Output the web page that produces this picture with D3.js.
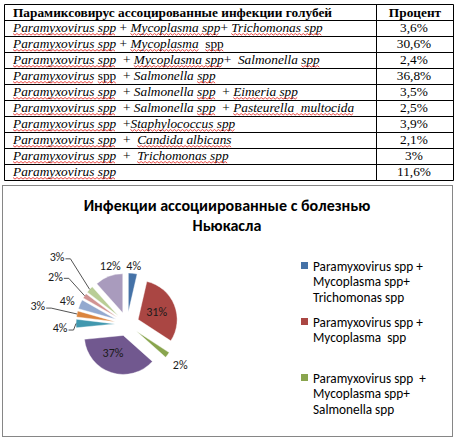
<!DOCTYPE html>
<html><head><meta charset="utf-8">
<script src="https://cdn.jsdelivr.net/npm/d3@7"></script>
<style>
html,body{margin:0;padding:0;background:#fff;}
svg{display:block;}
text{white-space:pre;}
</style></head><body>
<svg id="c" width="455" height="440"></svg>
<script>
// ---------------- DATA ----------------
const tableHeader = ["Парамиксовирус ассоцированные инфекции голубей", "Процент"];
// category name segments: [text, italic, spell-check squiggle]
const categories = [
  [["Paramyxovirus spp",1,1],[" + ",0,0],["Mycoplasma spp",1,1],["+ ",0,0],["Trichomonas spp",1,1]],
  [["Paramyxovirus spp",1,1],[" + ",0,0],["Mycoplasma",1,1],["  ",0,0],["spp",0,1]],
  [["Paramyxovirus spp",1,1],["  + ",0,0],["Mycoplasma spp",1,1],["+  ",0,0],["Salmonella ",1,0],["spp",1,1]],
  [["Paramyxovirus",1,1],[" spp",0,1],["  + ",0,0],["Salmonella ",1,0],["spp",1,1]],
  [["Paramyxovirus spp",1,1],["  + ",0,0],["Salmonella ",1,0],["spp",1,1],["  + ",0,0],["Eimeria spp",1,1]],
  [["Paramyxovirus spp",1,1],["  + ",0,0],["Salmonella ",1,0],["spp",1,1],["  + ",0,0],["Pasteurella  multocida",1,1]],
  [["Paramyxovirus spp",1,1],["  +",0,0],["Staphylococcus spp",1,1]],
  [["Paramyxovirus spp",1,1],["  +  ",0,0],["Candida albicans",1,1]],
  [["Paramyxovirus spp",1,1],["  +  ",0,0],["Trichomonas spp",1,1]],
  [["Paramyxovirus spp",1,1]]
];
const values = [3.6, 30.6, 2.4, 36.8, 3.5, 2.5, 3.9, 2.1, 3, 11.6];
const chartTitle = ["Инфекции ассоциированные с болезнью", "Ньюкасла"];
const legendLabels = [
  ["Paramyxovirus spp +", "Mycoplasma spp+", "Trichomonas spp"],
  ["Paramyxovirus spp +", "Mycoplasma  spp"],
  ["Paramyxovirus spp  +", "Mycoplasma spp+", "Salmonella spp"]
];
const colors = ["#4572A7","#AA4643","#89A54E","#71588F","#4198AF","#DB843D","#93A9CF","#D19392","#B9CD96","#A99BBD"];

// ---------------- LAYOUT / STYLE ----------------
const svg = d3.select("#c");
const serif = "'Liberation Serif','Times New Roman',serif";
const sans = "Carlito, Lato, 'Open Sans', sans-serif";
const sansCyr = "Carlito, 'Open Sans', sans-serif";

// ----- Table -----
const T = {left:4.5, right:453.5, colX:376.5, top:4.5, headH:16, rowH:16, fs:13.33};
const rowY = d3.scaleLinear().domain([0,1]).range([T.top+T.headH, T.top+T.headH+T.rowH]);
const tbl = svg.append("g");
const nRows = categories.length;
const bottom = rowY(nRows);
// horizontal lines
[T.top].concat(d3.range(nRows+1).map(i=>rowY(i))).forEach(y=>{
  tbl.append("line").attr("x1",T.left).attr("x2",T.right).attr("y1",y).attr("y2",y)
    .attr("stroke","#000").attr("stroke-width",1);
});
[T.left, T.colX, T.right].forEach(x=>{
  tbl.append("line").attr("x1",x).attr("x2",x).attr("y1",T.top).attr("y2",bottom)
    .attr("stroke","#000").attr("stroke-width",1);
});
// header
tbl.append("text").attr("x",13).attr("y",T.top+T.headH-4)
  .attr("font-family",serif).attr("font-weight","bold").attr("font-size",T.fs)
  .text(tableHeader[0]);
tbl.append("text").attr("x",(T.colX+T.right)/2).attr("y",T.top+T.headH-4)
  .attr("text-anchor","middle")
  .attr("font-family",serif).attr("font-weight","bold").attr("font-size",T.fs)
  .text(tableHeader[1]);

const pctStr = v => String(v).replace(".", ",") + "%";
function squigglePath(x0, x1, y){
  const pts=[]; let up=true;
  for(let x=x0; x<=x1+0.01; x+=2){ pts.push([x, up? y : y+1.6]); up=!up; }
  return d3.line()(pts);
}
categories.forEach((segs,i)=>{
  const yb = rowY(i+1)-4.5;
  const t = tbl.append("text").attr("x",13).attr("y",yb)
    .attr("xml:space","preserve")
    .attr("font-family",serif).attr("font-size",T.fs).attr("fill","#000");
  segs.forEach(s=>{
    t.append("tspan").attr("font-style", s[1] ? "italic" : "normal").text(s[0]);
  });
  // squiggles
  const node = t.node();
  let idx = 0;
  segs.forEach(s=>{
    const len = s[0].length;
    if (s[2]) {
      // skip leading spaces
      let a = idx, b = idx+len-1;
      while (s[0][a-idx] === " ") a++;
      try {
        const x0 = node.getStartPositionOfChar(a).x;
        const x1 = node.getEndPositionOfChar(b).x;
        tbl.append("path").attr("d", squigglePath(x0, x1, yb+1.5))
          .attr("fill","none").attr("stroke","#e8332f").attr("stroke-width",0.9);
      } catch(e) {}
    }
    idx += len;
  });
  tbl.append("text").attr("x",(T.colX+T.right)/2 - 1).attr("y",yb)
    .attr("text-anchor","middle").attr("font-family",serif).attr("font-size",T.fs)
    .text(pctStr(values[i]));
});

// ----- Chart area -----
svg.append("rect").attr("x",2.5).attr("y",185.5).attr("width",450).attr("height",251)
  .attr("fill","#fff").attr("stroke","#868686").attr("stroke-width",1);

// helper: fit font size so that a sample text measures a target width
function fitSize(family, weight, sample, target, base){
  const tmp = svg.append("text").attr("font-family",family).attr("font-weight",weight)
    .attr("font-size",base).text(sample);
  const w = tmp.node().getComputedTextLength();
  tmp.remove();
  return base * target / w;
}

// title
const titleSize = fitSize(sansCyr, "bold", chartTitle[0], 287, 14);
chartTitle.forEach((line,i)=>{
  svg.append("text").attr("x",227).attr("y",210.5 + i*20)
    .attr("text-anchor","middle").attr("font-family",sansCyr).attr("font-weight","bold")
    .attr("font-size",titleSize).attr("fill","#000").text(line);
});

// pie
const P = {cx:127, cy:324, r:39, explode:12};
const labelRadius = [59, 32, 67, 32, 67, 91, 64, 86, 97, 61];
const labelShiftDeg = [0, 0, 0, 8, -4, 0, -2, 0, 1, 5];
const labelLeader = [0, 0, 0, 0, 1, 1, 0, 1, 1, 0];

const pie = d3.pie().sort(null).value(d=>d);
const arcs = pie(values);
const arc = d3.arc().innerRadius(0).outerRadius(P.r);
const gPie = svg.append("g").attr("transform",`translate(${P.cx},${P.cy})`);
const polar = (ang, rad) => [rad*Math.sin(ang), -rad*Math.cos(ang)];

arcs.forEach((a,i)=>{
  const mid = (a.startAngle + a.endAngle)/2;
  const off = polar(mid, P.explode);
  gPie.append("path").attr("d", arc(a))
    .attr("transform",`translate(${off[0]},${off[1]})`)
    .attr("fill", colors[i]).attr("stroke","#fff").attr("stroke-width",0.4);
});

const labelSize = fitSize(sans, "normal", "37%", 21, 12);
arcs.forEach((a,i)=>{
  const mid = (a.startAngle + a.endAngle)/2;
  const la = mid + labelShiftDeg[i]*Math.PI/180;
  const p = polar(la, labelRadius[i]);
  const txt = gPie.append("text").attr("x",p[0]).attr("y",p[1]).attr("dy","0.35em")
    .attr("text-anchor","middle").attr("font-family",sans).attr("font-size",labelSize)
    .attr("fill","#1a1a1a").text(Math.round(values[i]) + "%");
  if (labelLeader[i]) {
    const w = txt.node().getComputedTextLength();
    const xr = p[0] + w/2 + 1, y = p[1] + 2;
    const e = polar(mid, P.r + P.explode);
    gPie.append("path").attr("d", d3.line()([[xr, y],[xr+5, y], e]))
      .attr("fill","none").attr("stroke","#404040").attr("stroke-width",0.9);
  }
});

// legend
const legSize = fitSize(sans, "normal", legendLabels[0][0], 110, 12);
const legY = d3.scaleLinear().domain([0,1]).range([266, 322]);
legendLabels.forEach((lines,i)=>{
  const yc = legY(i);
  svg.append("rect").attr("x",301).attr("y",yc-4).attr("width",7).attr("height",7)
    .attr("fill",colors[i]);
  lines.forEach((ln,j)=>{
    svg.append("text").attr("x",313).attr("y",yc + j*15.8).attr("dy","0.35em")
      .attr("xml:space","preserve")
      .attr("font-family",sans).attr("font-size",legSize).attr("fill","#000").text(ln);
  });
});
</script>
</body></html>
